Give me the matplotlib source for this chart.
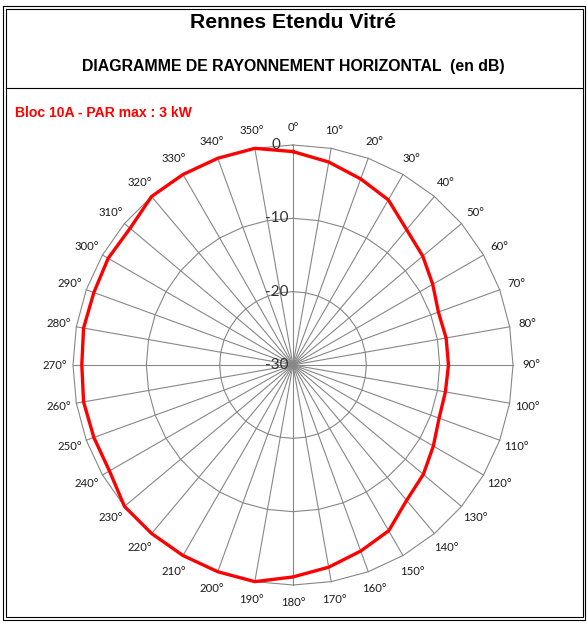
import matplotlib
matplotlib.use('Agg')
import matplotlib.pyplot as plt
import numpy as np
from matplotlib.lines import Line2D

# --- Data ---
ANGLES_DEG = list(range(0, 360, 10))
GAIN_DB = [-0.9, -1.9, -3.0, -4.0, -5.9, -6.9, -8.0, -8.9, -8.8, -8.8,
           -8.9, -8.8, -7.9, -6.8, -5.9, -3.9, -3.0, -2.0, -1.1, 0.0,
           0.0, 0.0, 0.0, 0.0, -1.1, -1.1, -1.0, -1.2, -1.0, -1.1,
           -0.9, -1.0, 0.0, 0.0, 0.0, 0.0]
RING_VALUES = [-20, -10, 0]
RADIAL_LABELS = ['0', '-10', '-20', '-30']
RADIAL_LABEL_VALUES = [0, -10, -20, -30]
ANGLE_LABELS = [f"{a}°" for a in ANGLES_DEG]

TITLE = "Rennes Etendu Vitré"
SUBTITLE = "DIAGRAMME DE RAYONNEMENT HORIZONTAL  (en dB)"
SERIES_LABEL = "Bloc 10A - PAR max : 3 kW"

# --- Figure geometry (pixels) ---
W, H = 587, 623
DPI = 100
CX, CY, R = 293, 365, 220
GRID_COLOR = '#878787'
TEXT_COLOR = '#1a1a1a'


def fx(px):
    return px / W


def fy(py):
    return 1 - py / H


fig = plt.figure(figsize=(W / DPI, H / DPI), dpi=DPI)
fig.patch.set_facecolor('white')

# --- Frame: double border and separator ---
def box(x0, y0, x1, y1):
    xs = [fx(x0), fx(x1), fx(x1), fx(x0), fx(x0)]
    ys = [fy(y0), fy(y0), fy(y1), fy(y1), fy(y0)]
    fig.add_artist(Line2D(xs, ys, color='black', lw=0.8))

box(3, 6, 585, 620)
box(5.5, 8.5, 583, 617)
fig.add_artist(Line2D([fx(5.5), fx(583)], [fy(88), fy(88)], color='black', lw=0.8))

fig.text(0.5, fy(22), TITLE, ha='center', va='center', fontsize=15.2,
         fontweight='bold', family='Liberation Sans', color='black')
fig.text(0.5, fy(67), SUBTITLE, ha='center', va='center', fontsize=11.4,
         fontweight='bold', family='Liberation Sans', color='black')
fig.text(fx(15), fy(113), SERIES_LABEL, ha='left', va='center', fontsize=10.1,
         fontweight='bold', family='Liberation Sans', color='red')

# --- Polar axes ---
ax = fig.add_axes([fx(CX - R), fy(CY + R), 2 * R / W, 2 * R / H],
                  projection='polar')
ax.set_theta_zero_location('N')
ax.set_theta_direction(-1)
ax.set_ylim(-30, 0)
ax.grid(False)
ax.set_xticks([])
ax.set_yticks([])
ax.spines['polar'].set_visible(False)
ax.patch.set_visible(False)

theta = np.deg2rad(ANGLES_DEG)
theta_closed = np.append(theta, theta[0])

# polygon rings
for rv in RING_VALUES:
    ax.plot(theta_closed, [rv] * len(theta_closed), color=GRID_COLOR, lw=0.8,
            zorder=1, clip_on=False)

# spokes
for t in theta:
    ax.plot([t, t], [-30, 0], color=GRID_COLOR, lw=0.8, zorder=1, clip_on=False)

# data
gain_closed = np.append(GAIN_DB, GAIN_DB[0])
ax.plot(theta_closed, gain_closed, color='red', lw=2.4, zorder=3, clip_on=False)

# angle labels
for t, lab in zip(theta, ANGLE_LABELS):
    ax.text(t, 2.45, lab, ha='center', va='center', fontsize=8.2,
            family='Lato', color=TEXT_COLOR)

# radial labels
for v, lab in zip(RADIAL_LABEL_VALUES, RADIAL_LABELS):
    ax.annotate(lab, xy=(0, v), xytext=(-12.0, 0), textcoords='offset points',
                ha='center', va='center', fontsize=11, family='Lato',
                color='#333333', zorder=4)

fig.savefig('out.png', dpi=DPI)
